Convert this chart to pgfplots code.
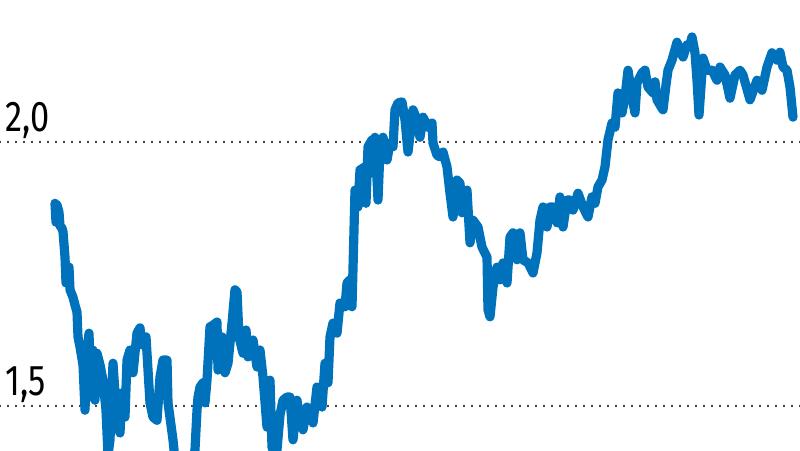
\documentclass[border=0pt]{standalone}
\usepackage{pgfplots}
\pgfplotsset{compat=1.18}
\usepackage{fontspec}
\setmainfont{Fira Sans}[FakeStretch=0.8]
\definecolor{lineblue}{RGB}{0,114,188}
\pgfplotstableread{
x v
55 1.884
56 1.848
57 1.881
59 1.867
60 1.841
62 1.837
63 1.830
65 1.782
66 1.733
67 1.758
69 1.763
70 1.720
73 1.706
75 1.691
77 1.678
78 1.631
80 1.612
83 1.578
85 1.492
87 1.593
89 1.638
91 1.517
93 1.606
95 1.511
97 1.600
100 1.578
103 1.549
106 1.492
108 1.407
110 1.436
113 1.581
117 1.468
120 1.449
122 1.525
125 1.479
127 1.587
130 1.606
133 1.563
137 1.638
140 1.648
142 1.616
146 1.631
150 1.506
153 1.479
157 1.473
160 1.555
163 1.587
167 1.587
168 1.506
171 1.464
173 1.436
176 1.379
180 1.360
190 1.369
195 1.417
197 1.492
198 1.517
200 1.536
203 1.544
205 1.506
207 1.549
210 1.650
213 1.653
217 1.659
218 1.568
222 1.631
225 1.563
228 1.581
232 1.657
235 1.720
237 1.716
239 1.631
243 1.600
246 1.644
248 1.593
253 1.625
257 1.574
260 1.606
263 1.555
267 1.460
270 1.549
272 1.422
275 1.407
277 1.417
280 1.483
283 1.511
287 1.517
290 1.517
293 1.436
297 1.511
300 1.473
303 1.455
307 1.498
310 1.492
313 1.468
317 1.536
320 1.530
322 1.498
325 1.581
328 1.544
330 1.631
333 1.657
337 1.638
340 1.695
345 1.688
347 1.733
350 1.739
352 1.688
354 1.833
355 1.909
358 1.877
360 1.947
365 1.953
366 1.884
368 1.991
372 2.004
373 1.941
375 2.009
378 1.890
380 1.985
383 2.009
387 1.966
390 1.998
393 1.991
395 2.061
398 2.074
402 2.076
405 2.042
408 1.981
413 2.061
417 2.042
420 2.009
423 2.047
428 2.028
432 2.036
433 1.998
437 1.975
440 1.972
443 1.981
447 1.953
450 1.903
453 1.858
457 1.928
460 1.922
462 1.866
467 1.909
470 1.809
473 1.852
478 1.839
482 1.801
487 1.782
488 1.682
490 1.669
493 1.725
497 1.763
500 1.739
503 1.771
507 1.733
510 1.820
513 1.828
517 1.777
520 1.828
523 1.777
528 1.771
533 1.752
537 1.790
540 1.852
543 1.877
547 1.839
550 1.877
553 1.877
557 1.847
560 1.896
563 1.839
567 1.890
570 1.890
573 1.871
578 1.903
583 1.877
588 1.858
592 1.896
595 1.884
598 1.915
602 1.928
605 1.953
608 2.004
612 2.036
615 2.028
618 2.093
622 2.055
625 2.085
628 2.136
632 2.085
635 2.055
637 2.112
642 2.131
645 2.136
648 2.104
653 2.093
655 2.114
657 2.080
660 2.070
663 2.061
666 2.108
668 2.136
672 2.155
677 2.189
680 2.174
683 2.161
687 2.184
690 2.184
692 2.199
695 2.169
697 2.117
699 2.051
703 2.159
707 2.136
712 2.136
717 2.117
720 2.142
725 2.127
730 2.083
735 2.127
740 2.136
743 2.127
750 2.080
757 2.117
762 2.098
767 2.142
772 2.169
777 2.155
780 2.170
783 2.142
787 2.136
790 2.104
793 2.047
}\series
\begin{document}
\begin{tikzpicture}
\begin{axis}[
  scale only axis,
  width=400pt, height=225pt,
  xmin=0, xmax=800,
  ymin=1.41667, ymax=2.26894,
  axis line style={draw=none},
  xtick=\empty,
  ytick={1.5,2},
  yticklabels={},
  major tick length=0pt,
  ymajorgrids,
  grid style={black, line width=1.1pt, dash pattern=on 0pt off 4pt, line cap=round},
  clip=true,
]
\addplot[lineblue, line width=4.6pt, line join=round, line cap=round, mark=none] table[x=x, y=v] {\series};
\node[anchor=base west, inner sep=0pt, font=\fontsize{21.5}{22}\selectfont] at (axis cs:5,2.0208) {2,0};
\node[anchor=base west, inner sep=0pt, font=\fontsize{21.5}{22}\selectfont] at (axis cs:5,1.5208) {1,5};
\end{axis}
\pgfresetboundingbox
\path (current axis.south west) rectangle (current axis.north east);
\end{tikzpicture}
\end{document}
